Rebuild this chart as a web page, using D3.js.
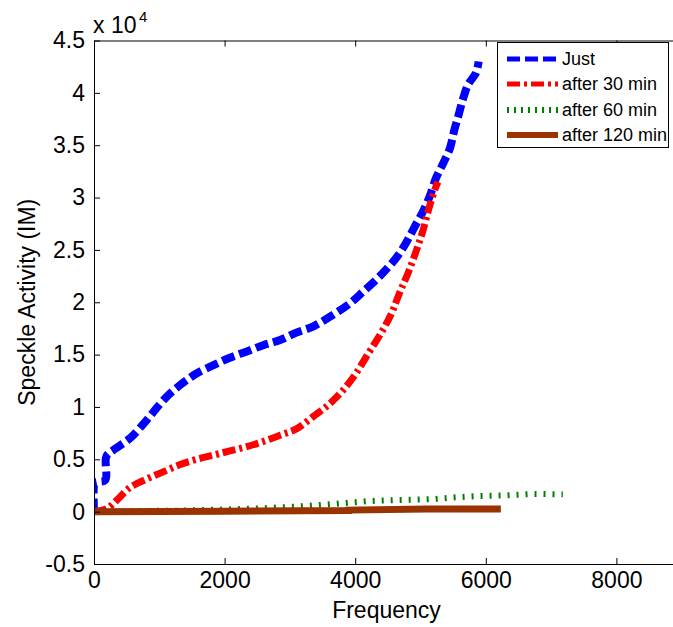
<!DOCTYPE html>
<html>
<head>
<meta charset="utf-8">
<script src="https://cdn.jsdelivr.net/npm/d3@7"></script>
<style>
  html, body { margin: 0; padding: 0; background: #fff; }
  svg { display: block; }
  text { font-family: "Liberation Sans", Arial, Helvetica, sans-serif; fill: #000; }
</style>
</head>
<body>
<svg id="chart" width="673" height="627"></svg>
<script>
// ---- data (y values in raw units; axis shows ×10^4) ----
const seriesNames = ["Just", "after 30 min", "after 60 min", "after 120 min"];

const justX = [0, 0, 20, 170, 190, 300, 550, 800, 1000, 1150, 1300, 1450, 1570, 1830, 2080, 2340, 2590, 2850, 3100, 3360, 3660, 3920, 4120, 4330, 4500, 4660, 4790, 4910, 5040, 5140, 5240, 5350, 5450, 5520, 5580, 5650, 5730, 5850, 5890];
const justY = [0, 2500, 2800, 3000, 5300, 5900, 7000, 8700, 10200, 11200, 12000, 12700, 13200, 14000, 14700, 15300, 15900, 16400, 17100, 17700, 18800, 19900, 21000, 22200, 23300, 24500, 25800, 27200, 28700, 30100, 31900, 33300, 34700, 36500, 37800, 39400, 40800, 41900, 43000];

const min30X = [0, 200, 350, 550, 800, 1060, 1320, 1570, 1830, 2080, 2340, 2590, 2850, 3100, 3360, 3590, 3800, 4000, 4200, 4400, 4560, 4680, 4810, 4940, 5040, 5140, 5240, 5270];
const min30Y = [0, 300, 1100, 2300, 3100, 3800, 4500, 5000, 5400, 5800, 6200, 6700, 7300, 7900, 9100, 10200, 11500, 13100, 15100, 17100, 19000, 20900, 22800, 25000, 26900, 29200, 31100, 31500];

const min60X = [0, 1300, 2000, 2500, 3150, 3600, 4170, 4600, 5190, 5500, 5900, 6300, 6720, 7180];
const min60Y = [0, 100, 200, 300, 500, 700, 1000, 1100, 1200, 1350, 1500, 1550, 1700, 1650];

const min120X = [0, 2000, 3900, 3900, 5100, 6230];
const min120Y = [0, 50, 100, 150, 250, 250];

const xTicks = [0, 2000, 4000, 6000, 8000];
const yTicks = [-5000, 0, 5000, 10000, 15000, 20000, 25000, 30000, 35000, 40000, 45000];
const yTickLabels = ["-0.5", "0", "0.5", "1", "1.5", "2", "2.5", "3", "3.5", "4", "4.5"];

// ---- layout ----
const svg = d3.select("#chart");
const L = 94, R = 747, T = 40.5, B = 564;
const x = d3.scaleLinear().domain([0, 10000]).range([L, R]);
const y = d3.scaleLinear().domain([-5000, 45000]).range([B, T]);

svg.append("defs").append("clipPath").attr("id", "clip")
  .append("rect").attr("x", L).attr("y", T).attr("width", R - L).attr("height", B - T);

const styles = [
  { color: "#0000ff", width: 8, dash: "13,5", legendDash: "13,5", legendWidth: 5, smooth: true },
  { color: "#ff0000", width: 7, dash: "13,4,3,4", legendDash: "13,4,3,4", legendWidth: 5, smooth: true },
  { color: "#008000", width: 6, dash: "2,7", legendDash: "2,5", legendWidth: 6, smooth: false },
  { color: "#993300", width: 7, dash: null, legendDash: null, legendWidth: 6, smooth: false }
];

const series = [
  justX.map((v, i) => [v, justY[i]]),
  min30X.map((v, i) => [v, min30Y[i]]),
  min60X.map((v, i) => [v, min60Y[i]]),
  min120X.map((v, i) => [v, min120Y[i]])
];

const lineLinear = d3.line().x(d => x(d[0])).y(d => y(d[1]));
const lineSmooth = d3.line().x(d => x(d[0])).y(d => y(d[1])).curve(d3.curveCatmullRom.alpha(0.5));

const plot = svg.append("g").attr("clip-path", "url(#clip)");
series.forEach((s, i) => {
  const st = styles[i];
  plot.append("path")
    .attr("d", (st.smooth ? lineSmooth : lineLinear)(s))
    .attr("fill", "none")
    .attr("stroke", st.color)
    .attr("stroke-width", st.width)
    .attr("stroke-linejoin", "miter")
    .attr("stroke-dasharray", st.dash);
});

// ---- axes ----
const fontSize = 23;
const gx = svg.append("g").attr("transform", `translate(0,${B})`)
  .call(d3.axisBottom(x).tickValues(xTicks).tickFormat(d3.format("d")).tickSizeInner(-6).tickSizeOuter(0).tickPadding(8));
const gxTop = svg.append("g").attr("transform", `translate(0,${T})`)
  .call(d3.axisTop(x).tickValues(xTicks).tickFormat("").tickSizeInner(-6).tickSizeOuter(0));
const gy = svg.append("g").attr("transform", `translate(${L},0)`)
  .call(d3.axisLeft(y).tickValues(yTicks).tickFormat((d, i) => yTickLabels[i]).tickSizeInner(-6).tickSizeOuter(0).tickPadding(9));
const gyR = svg.append("g").attr("transform", `translate(${R},0)`)
  .call(d3.axisRight(y).tickValues(yTicks).tickFormat("").tickSizeInner(-6).tickSizeOuter(0));

[gx, gxTop, gy, gyR].forEach(g => {
  g.selectAll("path.domain").attr("stroke", "#000").attr("stroke-width", 1);
  g.selectAll(".tick line").attr("stroke", "#000").attr("stroke-width", 1);
  g.selectAll("text").attr("font-size", fontSize).attr("font-family", "'Liberation Sans', Arial, sans-serif").attr("fill", "#000");
});

// axis labels
svg.append("text").attr("x", (L + 673) / 2 + 3).attr("y", 618)
  .attr("text-anchor", "middle").attr("font-size", fontSize).text("Frequency");
svg.append("text").attr("transform", `translate(35,${(T + B) / 2}) rotate(-90)`)
  .attr("text-anchor", "middle").attr("font-size", fontSize).text("Speckle Activity (IM)");

// exponent
svg.append("text").attr("x", 93).attr("y", 33).attr("font-size", fontSize).text("x 10");
svg.append("text").attr("x", 139).attr("y", 22).attr("font-size", 15).text("4");

// ---- legend ----
const lg = svg.append("g");
lg.append("rect").attr("x", 497.5).attr("y", 42.5).attr("width", 171).attr("height", 105)
  .attr("fill", "#fff").attr("stroke", "#000").attr("stroke-width", 1);
const rowY = [59, 84, 110, 135];
seriesNames.forEach((name, i) => {
  const st = styles[i];
  lg.append("line").attr("x1", 507).attr("x2", 558).attr("y1", rowY[i]).attr("y2", rowY[i])
    .attr("stroke", st.color).attr("stroke-width", st.legendWidth).attr("stroke-dasharray", st.legendDash);
  lg.append("text").attr("x", 562).attr("y", rowY[i]).attr("dy", "0.36em")
    .attr("font-size", 18).text(name);
});
</script>
</body>
</html>
